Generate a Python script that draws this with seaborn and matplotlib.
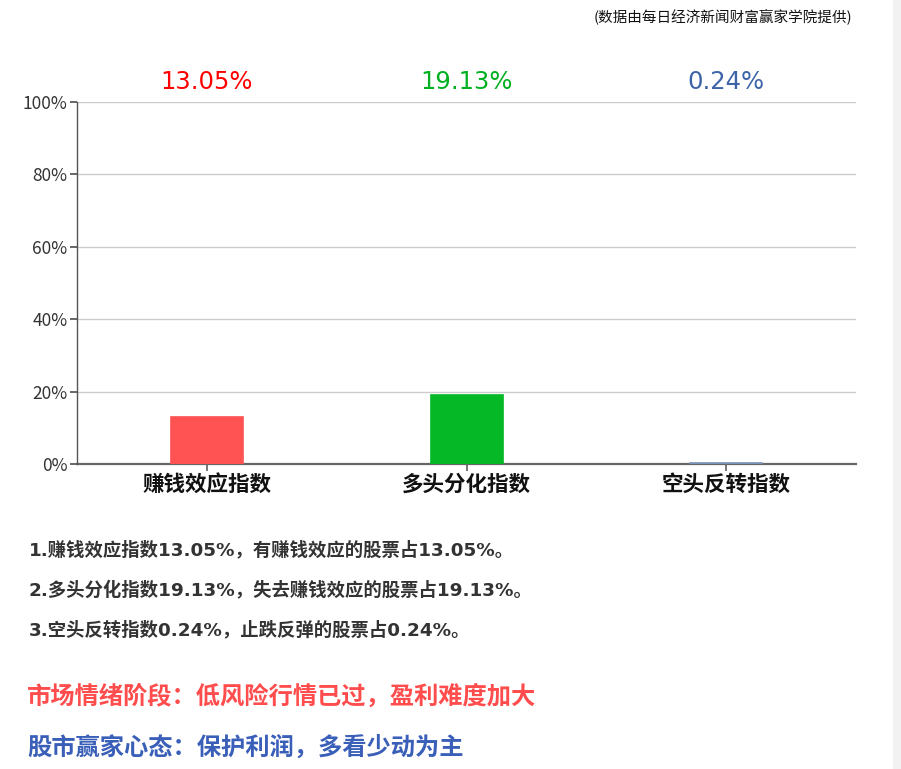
import matplotlib
matplotlib.use('Agg')
import pandas as pd
import matplotlib.pyplot as plt
import seaborn as sns
from matplotlib.ticker import PercentFormatter

# 数据
categories = ['赚钱效应指数', '多头分化指数', '空头反转指数']
values = [13.05, 19.13, 0.24]
bar_colors = ['#FF5252', '#05B825', '#7B93B8']
label_colors = ['#FF0000', '#00B020', '#3C64A8']
notes = [
    '1.赚钱效应指数13.05%，有赚钱效应的股票占13.05%。',
    '2.多头分化指数19.13%，失去赚钱效应的股票占19.13%。',
    '3.空头反转指数0.24%，止跌反弹的股票占0.24%。',
]
stage_text = '市场情绪阶段：低风险行情已过，盈利难度加大'
mood_text = '股市赢家心态：保护利润，多看少动为主'
source_text = '(数据由每日经济新闻财富赢家学院提供)'

df = pd.DataFrame({'cat': categories, 'val': values})

sns.set_theme(style='white')
plt.rcParams['font.family'] = ['Noto Sans CJK SC', 'DejaVu Sans']
wide = ['DejaVu Sans', 'Noto Sans CJK SC']

fig = plt.figure(figsize=(9.01, 7.69), dpi=100)
ax = fig.add_axes([0.0855, 0.3966, 0.8646, 0.4708])

sns.barplot(data=df, x='cat', y='val', hue='cat', palette=bar_colors,
            width=0.277, legend=False, ax=ax, saturation=1)
for p, c in zip(ax.patches, bar_colors):
    p.set_edgecolor(c)
    p.set_linewidth(1.2)
    p.set_zorder(3)

ax.set_ylim(0, 100)
ax.set_xlim(-0.5, 2.5)
ax.set_yticks(range(0, 101, 20))
ax.yaxis.set_major_formatter(PercentFormatter(decimals=0))
ax.grid(axis='y', color='#CCCCCC', linewidth=1)
ax.set_axisbelow(True)
ax.set_xlabel('')
ax.set_ylabel('')

for s in ['top', 'right']:
    ax.spines[s].set_visible(False)
ax.spines['left'].set_color('#555555')
ax.spines['left'].set_linewidth(1)
ax.spines['bottom'].set_color('#666666')
ax.spines['bottom'].set_linewidth(1.6)
ax.spines['bottom'].set_zorder(2)

ax.tick_params(axis='y', length=5, color='#555555', labelsize=12.5,
               labelcolor='#333333', left=True, pad=2)
ax.tick_params(axis='x', length=5, color='#666666', bottom=True, pad=2)
for t in ax.get_xticklabels():
    t.set_fontsize(15.5)
    t.set_fontweight('bold')
    t.set_color('#111111')

for i, v in enumerate(values):
    ax.text(i, 105.5, f'{v:.2f}%', ha='center', va='center', fontsize=17.5,
            color=label_colors[i], family=wide)

fig.text(0.946, 0.977, source_text, ha='right', va='center', fontsize=10.5,
         color='#111111')

y_notes = [0.285, 0.233, 0.181]
for t, y in zip(notes, y_notes):
    fig.text(0.032, y, t, ha='left', va='center', fontsize=13.2,
             fontweight='bold', color='#333333', family=wide)

fig.text(0.030, 0.094, stage_text, ha='left', va='center', fontsize=17.5,
         fontweight='bold', color='#FF4D4D')
fig.text(0.030, 0.028, mood_text, ha='left', va='center', fontsize=17.5,
         fontweight='bold', color='#3A5FB8')

fig.patches.append(plt.Rectangle((0.991, 0), 0.009, 1, transform=fig.transFigure,
                                 color='#F2F2F2', zorder=-1))

fig.savefig('out.png', dpi=100)
